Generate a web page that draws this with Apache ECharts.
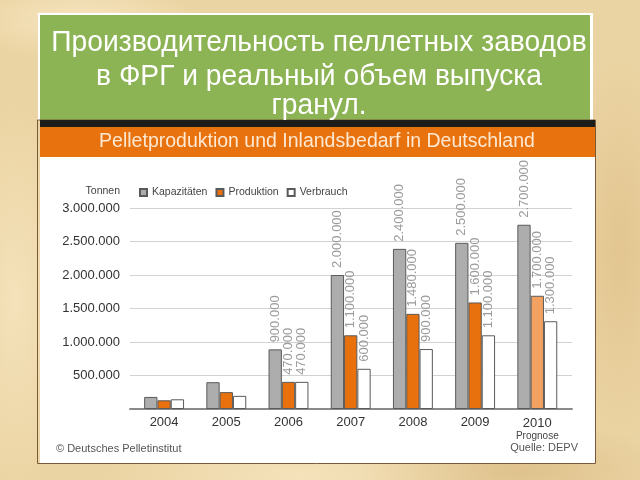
<!DOCTYPE html>
<html><head><meta charset="utf-8">
<script src="https://cdn.jsdelivr.net/npm/echarts@6/dist/echarts.min.js"></script>
<style>
html,body{margin:0;padding:0;}
body{width:640px;height:480px;overflow:hidden;
background:
radial-gradient(ellipse 120px 40px at 80px 20px, rgba(255,240,210,0.6), rgba(255,240,210,0) ),
radial-gradient(ellipse 160px 50px at 520px 470px, rgba(200,160,100,0.35), rgba(200,160,100,0)),
radial-gradient(ellipse 200px 60px at 300px 475px, rgba(255,240,210,0.5), rgba(255,240,210,0)),
radial-gradient(ellipse 60px 200px at 620px 250px, rgba(210,170,110,0.35), rgba(210,170,110,0)),
radial-gradient(ellipse 60px 200px at 15px 300px, rgba(255,240,210,0.5), rgba(255,240,210,0)),
#ebd4a3;}
#c{width:640px;height:480px;}
</style></head>
<body><div id="c"></div>
<script>
var years = ['2004','2005','2006','2007','2008','2009','2010'];
var kapazitaeten = [180000, 400000, 890000, 2000000, 2390000, 2480000, 2750000];
var produktion = [130000, 252000, 405000, 1100000, 1420000, 1590000, 1690000];
var verbrauch = [145000, 196000, 405000, 600000, 895000, 1100000, 1310000];
var kapLabels = ['', '', '900.000', '2.000.000', '2.400.000', '2.500.000', '2.700.000'];
var prodLabels = ['', '', '470.000', '1.100.000', '1.480.000', '1.600.000', '1.700.000'];
var verbLabels = ['', '', '470.000', '600.000', '900.000', '1.100.000', '1.300.000'];
var yTickLabels = ['', '500.000', '1.000.000', '1.500.000', '2.000.000', '2.500.000', '3.000.000'];
var seriesNames = ['Kapazitäten', 'Produktion', 'Verbrauch'];

var FONT = 'Liberation Sans, Arial, Helvetica, sans-serif';
var chart = echarts.init(document.getElementById('c'));

function lbl(arr){
  return {show:true, position:'top', rotate:90, align:'left', verticalAlign:'middle', distance:7,
    fontFamily:FONT, fontSize:13, color:'#9b9b9b',
    formatter:function(p){ return arr[p.dataIndex]; }};
}
var border = {borderColor:'#5a5a5a', borderWidth:1};
function titleLine(txt, y){
  return {type:'text', z:10, x:319, y:y, scaleX:0.94, scaleY:1,
    style:{x:0, y:0, text:txt, fill:'#ffffff', font:'30px '+FONT, textAlign:'center', textVerticalAlign:'middle'}};
}

var option = {
  backgroundColor:'transparent',
  animation:false,
  textStyle:{fontFamily:FONT},
  graphic:[
    {type:'rect', z:-10, shape:{x:38, y:13, width:555, height:107}, style:{fill:'#ffffff'}},
    {type:'rect', z:-9, shape:{x:40, y:15, width:550, height:105}, style:{fill:'#8db454'}},
    {type:'rect', z:-9, shape:{x:37.5, y:120, width:558, height:343.5}, style:{fill:'none', stroke:'#7a5a38', lineWidth:1}},
    {type:'rect', z:-9, shape:{x:40, y:120, width:555, height:7}, style:{fill:'#1c1c1a'}},
    {type:'rect', z:-9, shape:{x:40, y:127, width:555, height:30}, style:{fill:'#e8720e'}},
    {type:'rect', z:-9, shape:{x:40, y:157, width:555, height:306}, style:{fill:'#ffffff'}},
    titleLine('Производительность пеллетных заводов', 43),
    titleLine('в ФРГ и реальный объем выпуска', 77),
    titleLine('гранул.', 106),
    {type:'text', z:10, style:{x:317, y:142, text:'Pelletproduktion und Inlandsbedarf in Deutschland', fill:'#fde8d2', font:'19.5px '+FONT, textAlign:'center', textVerticalAlign:'middle'}},
    {type:'text', z:10, style:{x:120, y:191, text:'Tonnen', fill:'#444444', font:'10.5px '+FONT, textAlign:'right', textVerticalAlign:'middle'}},
    {type:'text', z:10, style:{x:56, y:449, text:'© Deutsches Pelletinstitut', fill:'#555555', font:'11px '+FONT, textAlign:'left', textVerticalAlign:'middle'}},
    {type:'text', z:10, style:{x:578, y:448, text:'Quelle: DEPV', fill:'#555555', font:'11px '+FONT, textAlign:'right', textVerticalAlign:'middle'}}
  ],
  legend:{
    data:seriesNames, left:139, top:187, padding:0, itemWidth:7, itemHeight:7, itemGap:8,
    selectedMode:false, icon:'rect',
    textStyle:{fontFamily:FONT, fontSize:10.5, color:'#444444'}
  },
  grid:[
    {left:133, right:71.6, top:208, bottom:71},
    {left:130, right:68, top:208, bottom:71}
  ],
  xAxis:[
    {type:'category', gridIndex:0, data:years, axisLine:{show:false}, axisTick:{show:false},
     axisLabel:{interval:0, margin:7, fontFamily:FONT, fontSize:13, color:'#333333',
       formatter:function(v){ return v==='2010' ? '{a|'+v+'}\n{b|Prognose}' : v; },
       rich:{a:{fontFamily:FONT, fontSize:13, color:'#333333', lineHeight:15}, b:{fontFamily:FONT, fontSize:10, color:'#444444', lineHeight:11}}}},
    {type:'value', gridIndex:1, min:0, max:1, axisLine:{show:true, onZero:false, lineStyle:{color:'#8a8a8a', width:2}},
     axisTick:{show:false}, axisLabel:{show:false}, splitLine:{show:false}}
  ],
  yAxis:[
    {type:'value', gridIndex:0, min:0, max:3000000, interval:500000, axisLine:{show:false}, axisTick:{show:false},
     axisLabel:{show:false}, splitLine:{show:false}},
    {type:'value', gridIndex:1, min:0, max:3000000, interval:500000, axisLine:{show:false}, axisTick:{show:false},
     axisLabel:{margin:10, fontFamily:FONT, fontSize:13, color:'#333333', formatter:function(v){ return yTickLabels[Math.round(v/500000)]; }},
     splitLine:{show:true, lineStyle:{color:'#d2d2d2', width:1}}}
  ],
  series:[
    {name:seriesNames[0], type:'bar', xAxisIndex:0, yAxisIndex:0, barWidth:13.3, barGap:'0%',
     itemStyle:Object.assign({color:'#adadad'}, border), label:lbl(kapLabels), data:kapazitaeten},
    {name:seriesNames[1], type:'bar', xAxisIndex:0, yAxisIndex:0, barWidth:13.3, barGap:'0%',
     itemStyle:Object.assign({color:'#e8710e'}, border), label:lbl(prodLabels),
     data:produktion.map(function(v,i){ return i===years.length-1 ? {value:v, itemStyle:{color:'#f2a161'}} : v; })},
    {name:seriesNames[2], type:'bar', xAxisIndex:0, yAxisIndex:0, barWidth:13.3, barGap:'0%',
     itemStyle:Object.assign({color:'#ffffff'}, border), label:lbl(verbLabels), data:verbrauch}
  ]
};
chart.setOption(option);
</script></body></html>
